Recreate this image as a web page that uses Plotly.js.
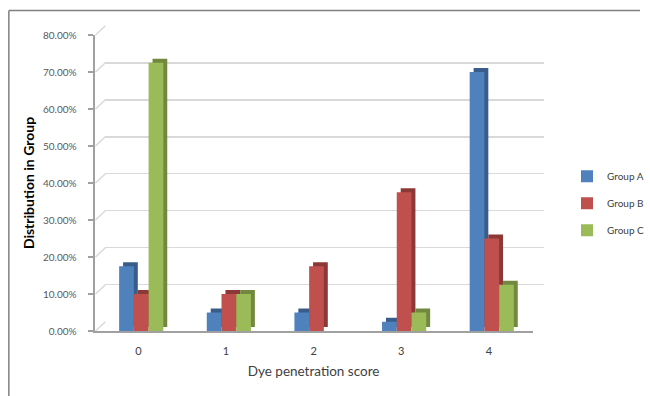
<!DOCTYPE html>
<html>
<head>
<meta charset="utf-8">
<script src="https://cdn.plot.ly/plotly-3.0.1.min.js"></script>
<style>html,body{margin:0;padding:0;background:#fff;}#chart{width:650px;height:396px;}</style>
</head>
<body>
<div id="chart"></div>
<script>
// Data (percent of group)
var categories = ["0", "1", "2", "3", "4"];
var groupA = [17.5, 5, 5, 2.5, 70];
var groupB = [10, 10, 17.5, 37.5, 25];
var groupC = [72.5, 10, 0, 5, 12.5];
var seriesNames = ["Group A", "Group B", "Group C"];
var yTicks = [0, 10, 20, 30, 40, 50, 60, 70, 80];
var yTickText = ["0.00%", "10.00%", "20.00%", "30.00%", "40.00%", "50.00%", "60.00%", "70.00%", "80.00%"];

var seriesValues = [groupA, groupB, groupC];
var frontColors = ["#4F81BD", "#C0504D", "#9BBB59"];
var sideColors = ["#385D8A", "#8C3836", "#71893F"];
var barW = 0.168;
var offsets = [-0.219, -0.051, 0.117];

var W = 650, H = 396;
function fx(a, b) { return [a / W, b / W]; }
function fy(bottom, top) { return [(H - bottom) / H, (H - top) / H]; }

// geometry of front and back walls (pixels)
var front = { x0: 96, x1: 541, yb: 331, yt: 35 };
var back = { x0: 107, x1: 553, yb: 321.7, yt: 25.7 };
var yMax = 80;

var traces = [];
// back-wall subplot holder (empty, carries the grid)
traces.push({ type: "scatter", x: [], y: [], xaxis: "x", yaxis: "y", showlegend: false, hoverinfo: "skip" });
// depth (side/top faces) on shifted subplot x2/y2
for (var i = 0; i < 3; i++) {
  traces.push({
    type: "bar", x: categories, y: seriesValues[i], xaxis: "x2", yaxis: "y2",
    width: barW, offset: offsets[i],
    marker: { color: sideColors[i], line: { width: 0 } },
    showlegend: false, hoverinfo: "skip"
  });
}
// front faces on x3/y3
for (var j = 0; j < 3; j++) {
  traces.push({
    type: "bar", x: categories, y: seriesValues[j], xaxis: "x3", yaxis: "y3",
    name: seriesNames[j], legendgroup: "g" + j,
    width: barW, offset: offsets[j],
    marker: { color: frontColors[j], line: { width: 0 } }
  });
}

// side-wall connectors from the front axis ticks to the back-wall grid lines
var shapes = [
  { type: "line", xref: "paper", yref: "paper", x0: 9 / W, x1: 1, y0: (H - 10.5) / H, y1: (H - 10.5) / H, line: { color: "#7F7F7F", width: 1.5 } },
  { type: "line", xref: "paper", yref: "paper", x0: 9 / W, x1: 9 / W, y0: 0, y1: (H - 10.5) / H, line: { color: "#7F7F7F", width: 1.5 } }
];
yTicks.forEach(function (v) {
  var yf = front.yb - (front.yb - front.yt) * v / yMax;
  var yb = back.yb - (back.yb - back.yt) * v / yMax;
  shapes.push({ type: "line", xref: "paper", yref: "paper", layer: "below",
    x0: (front.x0 + 1) / W, y0: (H - yf) / H, x1: back.x0 / W, y1: (H - yb) / H,
    line: { color: "#D9D9D9", width: 1.5 } });
});

var fontFam = "Lato, 'Liberation Sans', sans-serif";
var layout = {
  width: W, height: H,
  margin: { l: 0, r: 0, t: 0, b: 0 },
  paper_bgcolor: "#ffffff", plot_bgcolor: "rgba(0,0,0,0)",
  font: { family: fontFam, size: 11, color: "#404040" },
  barmode: "group",
  showlegend: true,
  legend: {
    x: 0.886, xanchor: "left", y: 0.487, yanchor: "middle",
    traceorder: "grouped", tracegroupgap: 8, itemwidth: 30,
    font: { family: fontFam, size: 10, color: "#404040" },
    bgcolor: "rgba(0,0,0,0)"
  },
  // back wall grid
  xaxis: { domain: fx(back.x0, back.x1), range: [-0.5, 4.5], type: "linear", showgrid: false, showline: false, showticklabels: false, zeroline: false, ticks: "", fixedrange: true },
  yaxis: { domain: fy(back.yb, back.yt), range: [-0.05, yMax + 0.05], tickvals: yTicks, showgrid: true, gridcolor: "#D9D9D9", gridwidth: 1.5, showline: false, showticklabels: false, zeroline: false, ticks: "", fixedrange: true },
  // depth
  xaxis2: { domain: fx(front.x0 + 4, front.x1 + 4), anchor: "y2", type: "category", range: [-0.5, 4.5], visible: false, fixedrange: true },
  yaxis2: { domain: fy(front.yb - 4, front.yt - 4), anchor: "x2", range: [0, yMax], visible: false, fixedrange: true },
  // front
  xaxis3: {
    domain: fx(front.x0, front.x1), anchor: "y3", type: "category", range: [-0.5, 4.5],
    showline: true, linecolor: "#A0A0A0", linewidth: 2, showgrid: false, zeroline: false,
    ticks: "", ticklabelstandoff: 9, tickfont: { size: 11, color: "#404040" },
    title: { text: "Dye penetration score", font: { size: 13.5, color: "#404040" }, standoff: 10 },
    automargin: false, fixedrange: true
  },
  yaxis3: {
    domain: fy(front.yb, front.yt), anchor: "x3", range: [0, yMax],
    tickvals: yTicks, ticktext: yTickText,
    showline: true, linecolor: "#A0A0A0", linewidth: 2, showgrid: false, zeroline: false,
    ticks: "outside", ticklen: 5, tickcolor: "#A0A0A0", tickwidth: 1.5, ticklabelstandoff: 9,
    tickfont: { size: 10, color: "#595959" },
    title: { text: "<b>Distribution in Group</b>", font: { size: 14, color: "#000000" }, standoff: 5 },
    automargin: false, fixedrange: true
  },
  shapes: shapes
};

Plotly.newPlot("chart", traces, layout, { displayModeBar: false, staticPlot: true });
</script>
</body>
</html>
